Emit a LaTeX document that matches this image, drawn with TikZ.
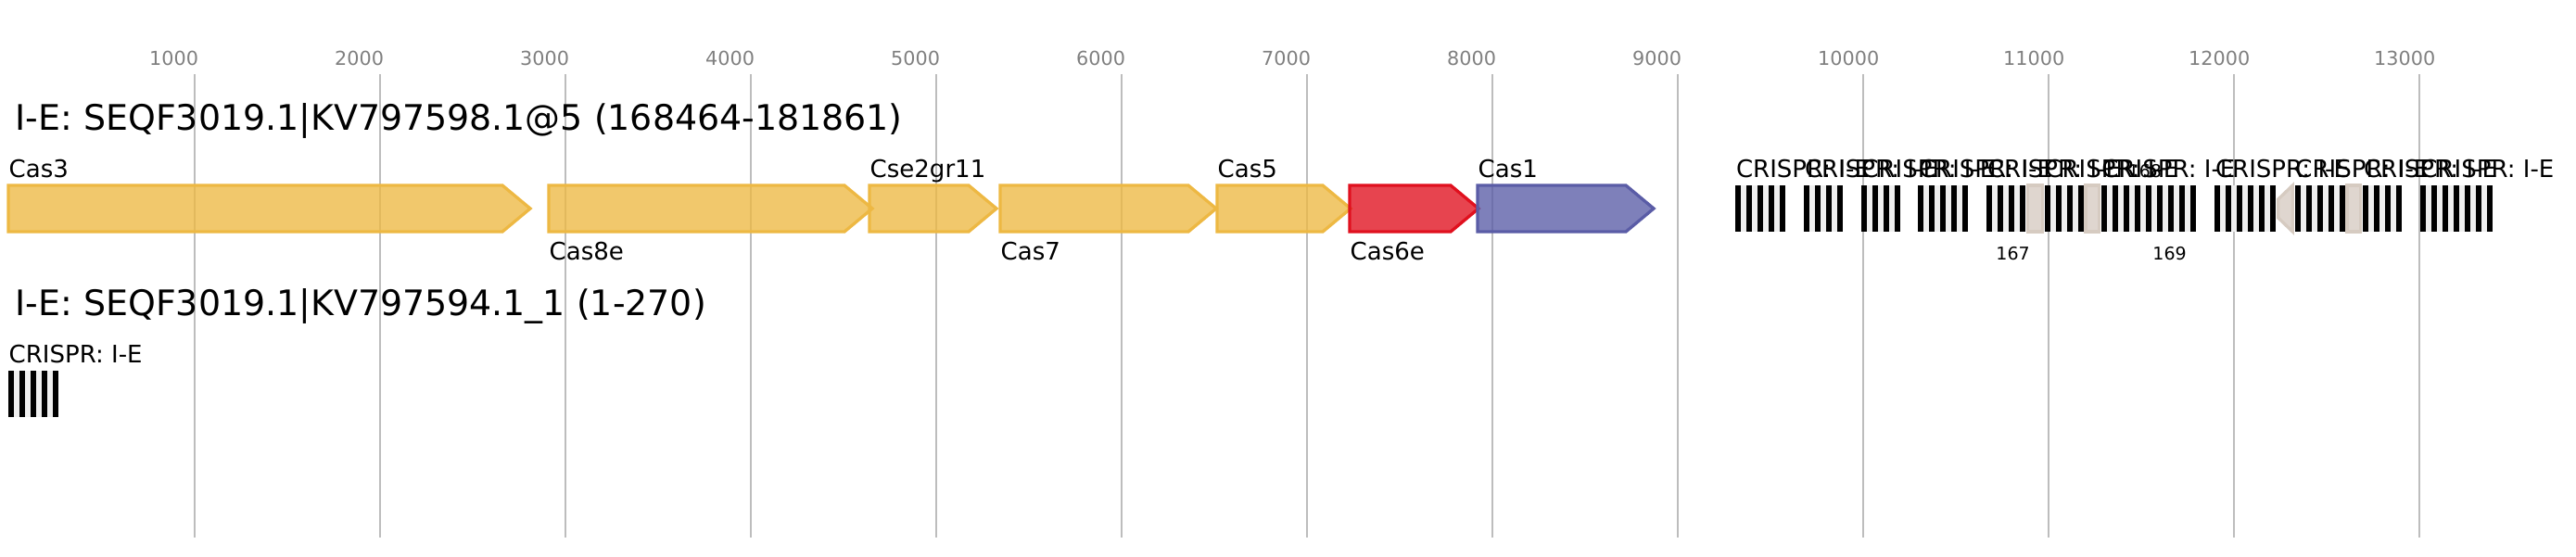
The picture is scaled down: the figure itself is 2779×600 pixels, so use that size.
\documentclass[tikz,border=0pt]{standalone}
\usepackage{fontspec}
\setmainfont{DejaVu Sans}
\usepackage{tikz}

\definecolor{casyellow}{HTML}{EDB843}
\definecolor{casred}{HTML}{E0101E}
\definecolor{casblue}{HTML}{5A5CA6}
\definecolor{orftan}{HTML}{D6CBC1}
\definecolor{spacergrey}{HTML}{EFEFEF}
\definecolor{gridgrey}{HTML}{BDBDBD}
\definecolor{tickgrey}{HTML}{808080}

\tikzset{gridline/.style = {draw=gridgrey, line width=0.02cm}}
\tikzset{gene/.style = {line width=0.033cm, line join=miter, fill opacity=0.78}}
\tikzset{crspacer/.style = {fill=spacergrey}}
\tikzset{crrepeat/.style = {fill=black}}
\tikzset{rowtitle/.style = {anchor=base west, inner sep=0, font=\fontsize{10.78}{12}\selectfont}}
\tikzset{genelabel/.style = {anchor=base west, inner sep=0, font=\fontsize{7.4}{9}\selectfont}}
\tikzset{ticklabel/.style = {anchor=base west, inner sep=0, text=tickgrey, font=\fontsize{5.9}{7}\selectfont}}
\tikzset{orflabel/.style = {anchor=base west, inner sep=0, font=\fontsize{5.4}{6.5}\selectfont}}

% gene arrow: start, tip, colour
\newcommand{\genearrow}[3]{%
  \draw[gene, draw=#3, fill=#3] (#1,200) -- ({#2-30},200) -- (#2,225) -- ({#2-30},250) -- (#1,250) -- cycle;}
% crispr array: start, top, number of repeats
\newcommand{\crarray}[3]{%
  \fill[crspacer] (#1,#2) rectangle ++({12*#3-6},50);
  \foreach \k in {1,...,#3}
    \fill[crrepeat] ({#1+12*(\k-1)},#2) rectangle ++(6,50);}

\begin{document}
\begin{tikzpicture}[x=0.01cm, y=-0.01cm]
            \useasboundingbox (0,0) rectangle (2779,600);

            % Axis
            \foreach \t in {1,...,13} {
                \draw[gridline] ({200*\t+9.5},80) -- ({200*\t+9.5},580);
                \node[ticklabel] (tick\t) at ({200*\t-39.5},70) {\t000};
            }

            % Row 1
            \node[rowtitle] (title1) at (16,140) {I-E: SEQF3019.1|KV797598.1@5 (168464-181861)};

            % Genes
            \genearrow{9}{572}{casyellow}
            \genearrow{592}{941}{casyellow}
            \genearrow{938}{1075}{casyellow}
            \genearrow{1079}{1312}{casyellow}
            \genearrow{1313}{1457}{casyellow}
            \genearrow{1456}{1595}{casred}
            \genearrow{1594}{1784}{casblue}

            \node[genelabel] (cas3) at (9,191) {Cas3};
            \node[genelabel] (cas8e) at (592,280) {Cas8e};
            \node[genelabel] (cse2) at (938,191) {Cse2gr11};
            \node[genelabel] (cas7) at (1079,280) {Cas7};
            \node[genelabel] (cas5) at (1313,191) {Cas5};
            \node[genelabel] (cas6e) at (1456,280) {Cas6e};
            \node[genelabel] (cas1) at (1594,191) {Cas1};

            % CRISPR arrays
            \crarray{1872.3}{200}{5}
            \crarray{1946.3}{200}{4}
            \crarray{2007.7}{200}{4}
            \crarray{2069.3}{200}{5}
            \crarray{2143.3}{200}{4}
            \crarray{2205.7}{200}{4}
            \crarray{2266.7}{200}{9}
            \crarray{2389.3}{200}{6}
            \crarray{2475.7}{200}{5}
            \crarray{2549.3}{200}{4}
            \crarray{2610.7}{200}{7}

            \foreach \s/\n in {1872.3/a, 1946.3/b, 2007.7/c, 2069.3/d, 2143.3/e, 2205.7/f,
                               2266.7/g, 2389.3/h, 2475.7/i, 2549.3/j, 2610.7/k}
                \node[genelabel] (cr\n) at (\s,191) {CRISPR: I-E};

            % other ORFs
            \draw[gene, draw=orftan, fill=orftan] (2187.3,200) rectangle (2203.3,250);
            \draw[gene, draw=orftan, fill=orftan] (2250,200) rectangle (2264.7,250);
            \draw[gene, draw=orftan, fill=orftan] (2473.3,200) -- (2457.7,215) -- (2457.7,235) -- (2473.3,250) -- cycle;
            \draw[gene, draw=orftan, fill=orftan] (2532,200) rectangle (2546.7,250);

            \node[orflabel] (orf167) at (2152.7,280) {167};
            \node[orflabel] (orf168) at (2295,191) {168};
            \node[orflabel] (orf169) at (2321.7,280) {169};

            % Row 2
            \node[rowtitle] (title2) at (16,340) {I-E: SEQF3019.1|KV797594.1\_1 (1-270)};
            \crarray{9}{400}{5}
            \node[genelabel] (crl) at (9,391) {CRISPR: I-E};
        \end{tikzpicture}
\end{document}
